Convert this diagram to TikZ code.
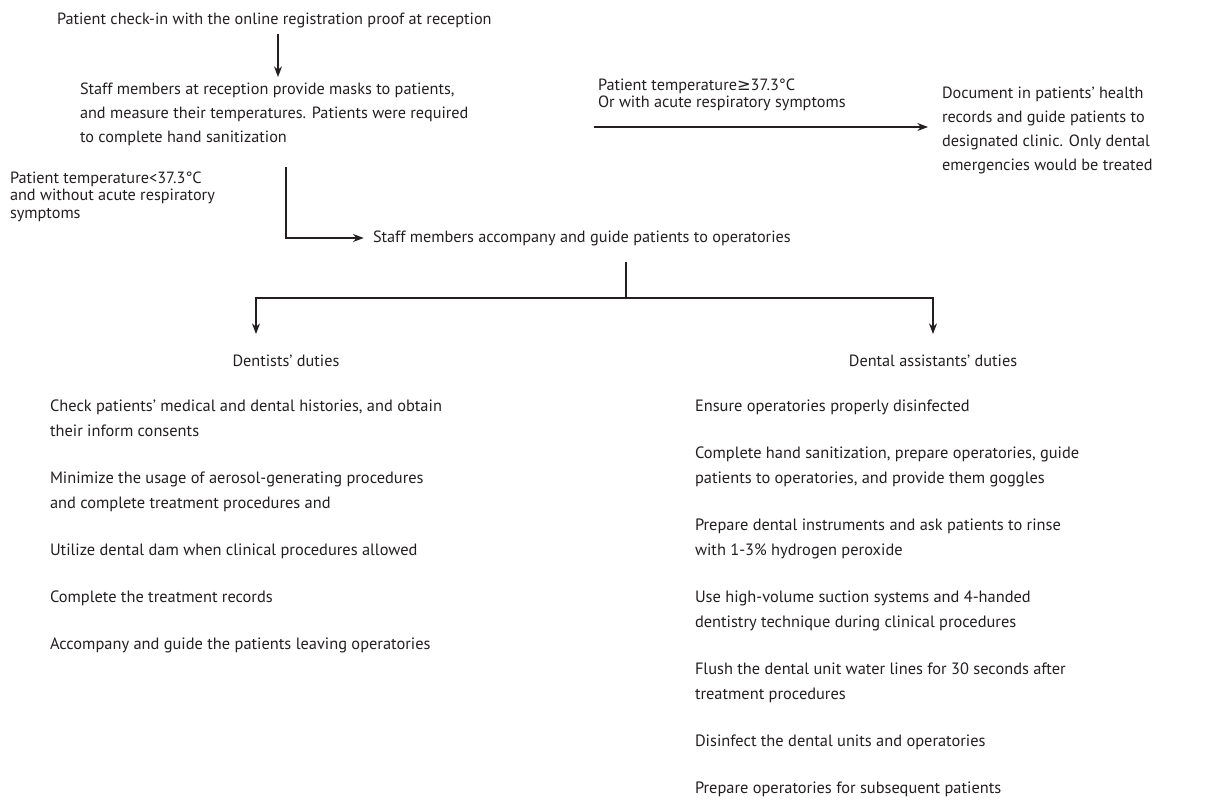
\documentclass[tikz,border=0pt]{standalone}
\usepackage{fontspec}
\setmainfont{PT Sans}
\newfontfamily\symfont{DejaVu Sans}
\usetikzlibrary{arrows.meta}
\definecolor{ink}{HTML}{231F20}
\begin{document}
\begin{tikzpicture}[x=0.75pt,y=-0.75pt,
  txt/.style={inner sep=0pt,outer sep=0pt,align=left,text=ink,font=\fontsize{12.2}{18}\selectfont},
  lst/.style={inner sep=0pt,outer sep=0pt,align=left,text=ink,font=\fontsize{12.3}{18.75}\selectfont},
  lbl/.style={inner sep=0pt,outer sep=0pt,align=left,text=ink,font=\fontsize{12.2}{13}\selectfont},
  conn/.style={draw=ink,line width=0.8pt},
  arr/.style={conn,-{Stealth[length=8pt,width=6pt]}}]
\useasboundingbox (0,0) rectangle (1205,804);
\node[txt,anchor=west] (title) at (57,20) {Patient check-in with the online registration proof at reception};
\node[txt,anchor=north west] (staff) at (80,83) {Staff members at reception provide masks to patients,\\and measure their temperatures. Patients were required\\to complete hand sanitization};
\node[lbl,anchor=south west] (hot) at (598,111) {Patient temperature{\symfont ≥}37.3°C\\Or with acute respiratory symptoms};
\node[txt,anchor=north west] (doc) at (942,87) {Document in patients’ health\\records and guide patients to\\designated clinic. Only dental\\emergencies would be treated};
\node[lbl,anchor=north west] (cold) at (10,172) {Patient temperature<37.3°C\\and without acute respiratory\\symptoms};
\node[txt,anchor=west] (acc) at (373,238) {Staff members accompany and guide patients to operatories};
\node[txt,anchor=center] (dent) at (286,361) {Dentists’ duties};
\node[txt,anchor=center] (asst) at (933,361) {Dental assistants’ duties};
\node[lst,anchor=north west] (dl) at (50,400) {Check patients’ medical and dental histories, and obtain\\their inform consents\\[16.5pt]Minimize the usage of aerosol-generating procedures\\and complete treatment procedures and\\[16.5pt]Utilize dental dam when clinical procedures allowed\\[16.5pt]Complete the treatment records\\[16.5pt]Accompany and guide the patients leaving operatories};
\node[lst,anchor=north west] (al) at (695,400) {Ensure operatories properly disinfected\\[16.5pt]Complete hand sanitization, prepare operatories, guide\\patients to operatories, and provide them goggles\\[16.5pt]Prepare dental instruments and ask patients to rinse\\with 1-3\% hydrogen peroxide\\[16.5pt]Use high-volume suction systems and 4-handed\\dentistry technique during clinical procedures\\[16.5pt]Flush the dental unit water lines for 30 seconds after\\treatment procedures\\[16.5pt]Disinfect the dental units and operatories\\[16.5pt]Prepare operatories for subsequent patients};
\coordinate (a1) at (278,34);
\coordinate (a2) at (278,77);
\draw[arr] (a1) -- (a2);
\coordinate (h1) at (594,127);
\coordinate (h2) at (928,127);
\draw[arr] (h1) -- (h2);
\coordinate (c1) at (286,167);
\coordinate (c2) at (286,238);
\draw[arr,shorten >=7pt] (c1) -- (c2) -- (acc.west);
\coordinate (m1) at (626,262);
\coordinate (m2) at (626,298);
\coordinate (l1) at (256,298);
\coordinate (r1) at (933,298);
\coordinate (l2) at (256,334);
\coordinate (r2) at (933,334);
\draw[conn] (m1) -- (m2);
\draw[arr] (m2) -- (l1) -- (l2);
\draw[arr] (m2) -- (r1) -- (r2);
\end{tikzpicture}
\end{document}
